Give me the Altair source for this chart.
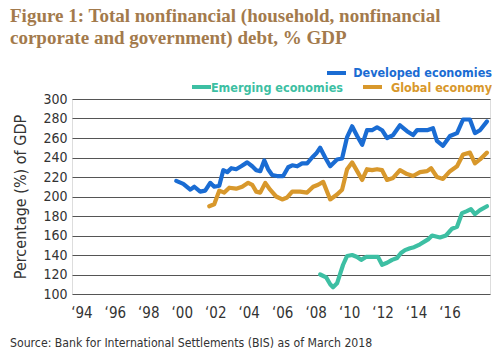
import altair as alt
import pandas as pd

# ---- data (year as decimal, % of GDP) ----
dev_years = [1999.67, 2000.09, 2000.51, 2000.75, 2001.10, 2001.40, 2001.70, 2001.94, 2002.24, 2002.48,
             2002.72, 2002.96, 2003.25, 2003.55, 2003.91, 2004.21, 2004.45, 2004.69, 2004.93, 2005.16,
             2005.40, 2005.70, 2006.06, 2006.36, 2006.60, 2006.90, 2007.19, 2007.49, 2007.79, 2008.03,
             2008.27, 2008.57, 2008.87, 2009.28, 2009.58, 2009.88, 2010.18, 2010.48, 2010.78, 2011.07,
             2011.37, 2011.67, 2011.97, 2012.27, 2012.63, 2013.04, 2013.46, 2013.82, 2014.06, 2014.42,
             2014.66, 2015.01, 2015.25, 2015.61, 2016.03, 2016.45, 2016.81, 2017.22, 2017.52, 2017.82,
             2018.24]
dev_values = [216, 213, 207, 210, 205, 206, 214, 210, 211, 227,
              225, 229, 228, 231, 235, 231, 227, 226, 237, 228,
              222, 221, 221, 230, 232, 231, 234, 234, 240, 244,
              250, 240, 231, 238, 239, 261, 272, 262, 253, 268,
              268, 271, 268, 260, 263, 273, 267, 263, 268, 268,
              268, 270, 257, 252, 262, 265, 279, 279, 265, 268,
              277]

glob_years = [2001.64, 2001.94, 2002.24, 2002.54, 2002.84, 2003.25, 2003.61, 2003.97, 2004.21, 2004.45,
              2004.69, 2004.99, 2005.28, 2005.64, 2006.00, 2006.30, 2006.60, 2007.07, 2007.49, 2007.85,
              2008.15, 2008.45, 2008.87, 2009.28, 2009.58, 2009.88, 2010.18, 2010.48, 2010.78, 2011.07,
              2011.37, 2011.67, 2011.97, 2012.27, 2012.63, 2013.04, 2013.46, 2013.82, 2014.24, 2014.66,
              2014.90, 2015.25, 2015.61, 2016.03, 2016.45, 2016.81, 2017.22, 2017.52, 2017.82, 2018.24]
glob_values = [190, 192, 206, 204, 209, 208, 210, 214, 212, 205,
               204, 214, 207, 200, 197, 199, 205, 205, 204, 210,
               212, 215, 197, 202, 207, 228, 235, 226, 217, 228,
               227, 228, 227, 217, 219, 227, 223, 221, 225, 226,
               229, 220, 218, 226, 231, 243, 245, 234, 238, 245]

emer_years = [2008.27, 2008.63, 2008.87, 2009.04, 2009.28, 2009.64, 2009.88, 2010.18, 2010.48, 2010.72,
              2011.01, 2011.43, 2011.73, 2011.97, 2012.27, 2012.57, 2012.87, 2013.10, 2013.34, 2013.64,
              2013.88, 2014.24, 2014.72, 2014.96, 2015.43, 2015.79, 2016.15, 2016.45, 2016.75, 2017.04,
              2017.28, 2017.52, 2017.82, 2018.24]
emer_values = [120, 117, 110, 107, 111, 130, 139, 140, 138, 135,
               138, 138, 138, 130, 132, 135, 137, 142, 145, 147,
               148, 151, 156, 160, 158, 160, 167, 169, 183, 185,
               187, 182, 186, 190]

series_names = ["Developed economies", "Emerging economies", "Global economy"]
series_colors = ["#1a6cd3", "#3dbfa3", "#d8982c"]
y_ticks = [100, 120, 140, 160, 180, 200, 220, 240, 260, 280, 300]
x_ticks = [1994, 1996, 1998, 2000, 2002, 2004, 2006, 2008, 2010, 2012, 2014, 2016]

title_lines = ["Figure 1: Total nonfinancial (household, nonfinancial",
               "corporate and government) debt, % GDP"]
source_text = "Source: Bank for International Settlements (BIS) as of March 2018"

rows = []
for name, ys, vs in [(series_names[0], dev_years, dev_values),
                     (series_names[1], emer_years, emer_values),
                     (series_names[2], glob_years, glob_values)]:
    for yr, v in zip(ys, vs):
        rows.append({"series": name, "year": yr, "value": v})
df = pd.DataFrame(rows)

LABEL_FONT = "DejaVu Sans Condensed"

lines = alt.Chart(df).mark_line(strokeWidth=4.2, strokeJoin="round", strokeCap="round").encode(
    x=alt.X("year:Q",
            scale=alt.Scale(domain=[1993.44, 2018.42], nice=False, zero=False),
            axis=alt.Axis(values=x_ticks, grid=False, ticks=False, domain=False,
                          labelExpr="'\u2018' + substring(toString(datum.value), 2)",
                          labelFont=LABEL_FONT, labelFontSize=15, labelColor="#333333",
                          labelPadding=11, title=None)),
    y=alt.Y("value:Q",
            scale=alt.Scale(domain=[100, 300], nice=False, zero=False),
            axis=alt.Axis(values=y_ticks, grid=True, gridColor="#555555", gridWidth=1,
                          gridOpacity=1, ticks=False, domain=False,
                          labelFont=LABEL_FONT, labelFontSize=14, labelColor="#333333",
                          labelPadding=5,
                          title="Percentage (%) of GDP", titleFont=LABEL_FONT, titleFontSize=16,
                          titleFontWeight="normal", titleColor="#333333",
                          titleX=-52, titleY=97.5, titleAngle=-90,
                          titleAlign="center", titleBaseline="middle")),
    color=alt.Color("series:N", scale=alt.Scale(domain=series_names, range=series_colors), legend=None),
    detail="series:N",
)

one = alt.Data(values=[{}])

def text_layer(txt, x, y, size, color, font, weight="normal", align="left"):
    return alt.Chart(one).mark_text(text=txt, align=align, baseline="alphabetic", fontSize=size,
                                    font=font, fontWeight=weight, color=color).encode(
        x=alt.value(x), y=alt.value(y))

def swatch(x1, x2, y, color):
    return alt.Chart(one).mark_rule(strokeWidth=4, color=color).encode(
        x=alt.value(x1), x2=alt.value(x2), y=alt.value(y))

title_color = "#a37a4c"
layers = [
    lines,
    text_layer(title_lines[0], -62, -77, 19, title_color, "Liberation Serif", "bold"),
    text_layer(title_lines[1], -62, -55, 19, title_color, "Liberation Serif", "bold"),
    swatch(255, 274, -26, series_colors[0]),
    text_layer(series_names[0], 420, -22, 12.5, series_colors[0], LABEL_FONT, "bold", "right"),
    swatch(120, 139, -12, series_colors[1]),
    text_layer(series_names[1], 271, -7.5, 12.5, series_colors[1], LABEL_FONT, "bold", "right"),
    swatch(291, 310, -12, series_colors[2]),
    text_layer(series_names[2], 420, -7.5, 12.5, series_colors[2], LABEL_FONT, "bold", "right"),
    text_layer(source_text, -62, 248, 12.2, "#333333", LABEL_FONT),
]

chart = alt.layer(*layers).properties(
    width=418, height=195,
    autosize=alt.AutoSizeParams(type="none"),
    padding={"left": 64, "top": 91, "right": 2, "bottom": 56},
).configure_view(stroke=None).configure(background="white")

chart.save("out.html", embed_options={"renderer": "svg", "actions": False})
